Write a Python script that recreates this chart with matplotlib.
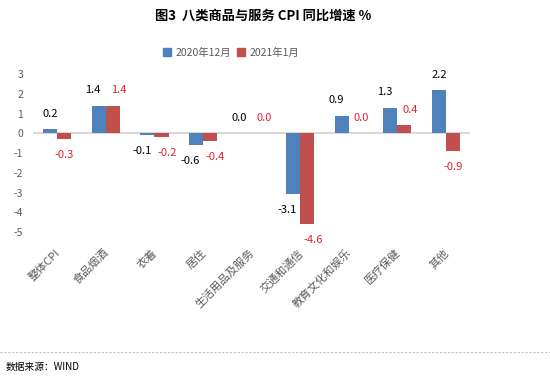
import numpy as np
import matplotlib
matplotlib.use("Agg")
import matplotlib.pyplot as plt
from matplotlib.patches import Patch
from matplotlib.lines import Line2D

plt.rcParams['font.family'] = ['Noto Sans CJK SC', 'DejaVu Sans']

categories = ["整体CPI", "食品烟酒", "衣着", "居住", "生活用品及服务",
              "交通和通信", "教育文化和娱乐", "医疗保健", "其他"]
dec_2020 = [0.2, 1.4, -0.1, -0.6, 0.0, -3.1, 0.9, 1.3, 2.2]
jan_2021 = [-0.3, 1.4, -0.2, -0.4, 0.0, -4.6, 0.0, 0.4, -0.9]
series_names = ["2020年12月", "2021年1月"]
yticks = [3, 2, 1, 0, -1, -2, -3, -4, -5]

blue = "#4F81BD"
red = "#C0504D"
label_red = "#E0242A"
gray_text = "#595959"

fig = plt.figure(figsize=(5.5, 3.76), dpi=100)
ax = fig.add_axes([0.06, 0.383, 0.795, 0.42])

x = np.arange(len(categories))
w = 0.29
ax.bar(x - w / 2, dec_2020, w, color=blue, zorder=3)
ax.bar(x + w / 2, jan_2021, w, color=red, zorder=3)

ax.axhline(0, color="#D9D9D9", lw=1.5, zorder=2)

# labels: above positive bars, below negative; push apart when both on the same side
for i, (a, b) in enumerate(zip(dec_2020, jan_2021)):
    same_side = (a >= 0) == (b >= 0)
    dx = 4 if same_side else 0
    for xi, v, sx, col in [(x[i] - w / 2, a, -dx, "black"),
                           (x[i] + w / 2, b, dx, label_red)]:
        off = 11 if v >= 0 else -11.5
        ax.annotate(f"{v:.1f}", (xi, v), xytext=(sx, off), textcoords="offset points",
                    ha="center", va="center", fontsize=8, color=col)

ax.set_xlim(-0.5, len(categories) - 0.5)
ax.set_ylim(-5, 3)
ax.set_yticks(yticks)
ax.set_yticklabels([str(t) for t in yticks])
ax.set_xticks(x + 0.1)
ax.set_xticklabels(categories, rotation=45, ha="right", va="top")
ax.tick_params(axis="both", length=0, labelsize=7.5, colors=gray_text)
ax.tick_params(axis="y", pad=7)
ax.tick_params(axis="x", pad=11, labelsize=8)
for s in ax.spines.values():
    s.set_visible(False)

fig.text(0.478, 0.958, "图3  八类商品与服务 CPI 同比增速 %", ha="center", va="center",
         fontsize=9.5, fontweight="bold", color="black")

handles = [Patch(color=blue), Patch(color=red)]
fig.legend(handles, series_names, loc="center", bbox_to_anchor=(0.42, 0.86),
           ncol=2, frameon=False, fontsize=7.5, handlelength=0.8, handleheight=0.8,
           handletextpad=0.4, columnspacing=0.6, labelcolor=gray_text)

fig.add_artist(Line2D([0, 1], [0.064, 0.064], color="#BFBFBF", lw=0.8,
                      ls=(0, (2, 1.5)), transform=fig.transFigure))
fig.text(0.01, 0.025, "数据来源：WIND", ha="left", va="center", fontsize=7, color="black")

fig.savefig("out.png", dpi=100)
